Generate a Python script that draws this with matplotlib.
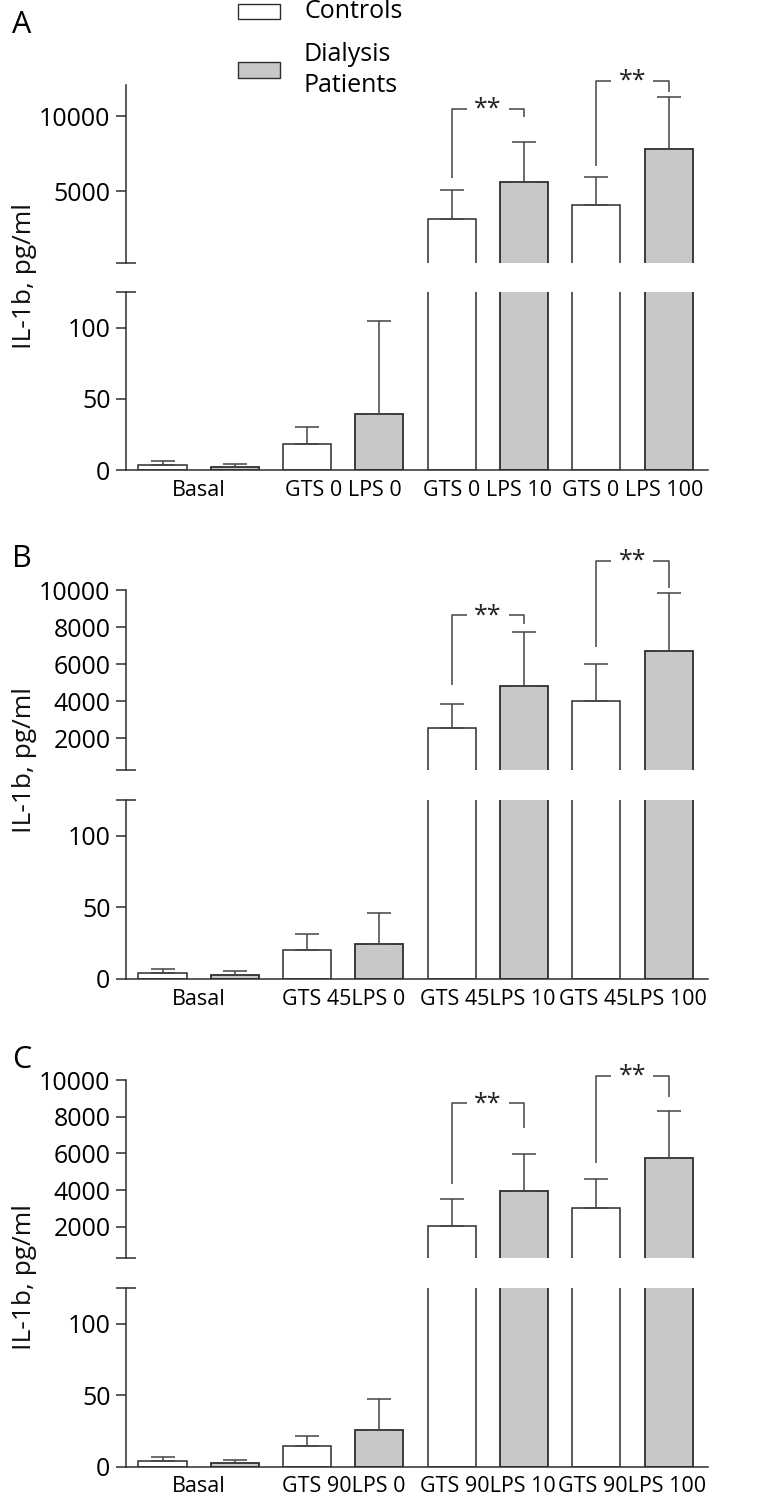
import matplotlib
matplotlib.use("Agg")
import matplotlib.pyplot as plt
import numpy as np
from matplotlib.patches import Rectangle

plt.rcParams['font.family'] = ['Open Sans', 'DejaVu Sans']

# ---------------- data ----------------
cats_A = ['Basal', 'GTS 0 LPS 0', 'GTS 0 LPS 10', 'GTS 0 LPS 100']
cats_B = ['Basal', 'GTS 45LPS 0', 'GTS 45LPS 10', 'GTS 45LPS 100']
cats_C = ['Basal', 'GTS 90LPS 0', 'GTS 90LPS 10', 'GTS 90LPS 100']

ctrl_A = [4.0, 18.2, 3130, 4070]
ctrl_A_top = [6.7, 30.4, 5070, 5910]      # upper end of error bar
pat_A = [2.5, 39.5, 5580, 7780]
pat_A_top = [4.6, 105, 8250, 11290]

ctrl_B = [4.4, 20.0, 2540, 4010]
ctrl_B_top = [7.0, 31.6, 3850, 5990]
pat_B = [2.8, 24.6, 4840, 6690]
pat_B_top = [5.3, 46.3, 7720, 9860]

ctrl_C = [4.0, 14.7, 2040, 3010]
ctrl_C_top = [6.8, 21.5, 3500, 4590]
pat_C = [2.8, 25.4, 3970, 5750]
pat_C_top = [4.9, 47.1, 5950, 8330]

# significance brackets: (group index, left foot, top, right foot) in pg/ml
sig_A = [(2, 5850, 10490, 9910), (3, 6670, 12330, 11580)]
sig_B = [(2, 4880, 8640, 8150), (3, 6910, 11580, 10120)]
sig_C = [(2, 4330, 8730, 7370), (3, 5460, 10220, 9060)]

upper_ticks_A = [5000, 10000]
upper_ticks_BC = [2000, 4000, 6000, 8000, 10000]
lower_ticks = [0, 50, 100]

legend_labels = ['Controls', 'Dialysis\nPatients']
panel_labels = ['A', 'B', 'C']
ylabel = 'IL-1b, pg/ml'

# ---------------- style ----------------
W, H = 760, 1504
DPI = 100
fig = plt.figure(figsize=(W / DPI, H / DPI), dpi=DPI)

EDGE = '#2e2e2e'
GRAY = '#c8c8c8'
LINE = '#444444'
TICKFS = 18
XFS = 15.5
left_px, right_px = 126, 708
step_px = 72.3
x0_px = 162.5
xlim = ((left_px - x0_px) / step_px, (right_px - x0_px) / step_px)
BARW = 0.665
LOWER_MAX = 125

def fx(px):
    return px / W

def fy(py):
    return 1 - py / H

panels = [
    dict(cats=cats_A, c=ctrl_A, ct=ctrl_A_top, p=pat_A, pt=pat_A_top, sig=sig_A,
         up=(85, 263.3), lo=(292, 470.3), uylim=(180, 12070), uticks=upper_ticks_A,
         letter_y=33, ylab_y=276),
    dict(cats=cats_B, c=ctrl_B, ct=ctrl_B_top, p=pat_B, pt=pat_B_top, sig=sig_B,
         up=(590, 770), lo=(800, 979), uylim=(290, 10000), uticks=upper_ticks_BC,
         letter_y=567, ylab_y=760),
    dict(cats=cats_C, c=ctrl_C, ct=ctrl_C_top, p=pat_C, pt=pat_C_top, sig=sig_C,
         up=(1080, 1258.3), lo=(1288, 1466.7), uylim=(282, 10000), uticks=upper_ticks_BC,
         letter_y=1068, ylab_y=1277),
]

cap_half = 10 / (right_px - left_px)

def style_axis(ax):
    for s in ['top', 'right']:
        ax.spines[s].set_visible(False)
    for s in ['left', 'bottom']:
        ax.spines[s].set_color(EDGE)
        ax.spines[s].set_linewidth(1.1)
    ax.tick_params(axis='y', direction='out', length=7.2, width=1.1, color=EDGE,
                   labelsize=TICKFS, pad=4)
    ax.set_xlim(*xlim)

def draw_err(ax, pos, val, top, mask):
    pos = pos[mask]; val = val[mask]; top = top[mask]
    if len(pos) == 0:
        return
    ax.errorbar(pos, val, yerr=[np.zeros_like(val), top - val], fmt='none',
                ecolor=LINE, elinewidth=1.1, capsize=8.6, capthick=1.1, zorder=3)

for i, pn in enumerate(panels):
    axu = fig.add_axes([fx(left_px), fy(pn['up'][1]), fx(right_px - left_px),
                        (pn['up'][1] - pn['up'][0]) / H])
    axl = fig.add_axes([fx(left_px), fy(pn['lo'][1]), fx(right_px - left_px),
                        (pn['lo'][1] - pn['lo'][0]) / H])
    ctrl_pos = np.arange(len(pn['cats'])) * 2
    pat_pos = ctrl_pos + 1
    c = np.array(pn['c']); ct = np.array(pn['ct'])
    p = np.array(pn['p']); pt = np.array(pn['pt'])
    for ax in (axu, axl):
        style_axis(ax)
        ax.bar(ctrl_pos, c, width=BARW, color='white', edgecolor=EDGE, linewidth=1.1, zorder=2)
        ax.bar(pat_pos, p, width=BARW, color=GRAY, edgecolor=EDGE, linewidth=1.3, zorder=2)
    draw_err(axu, ctrl_pos, c, ct, c > LOWER_MAX)
    draw_err(axu, pat_pos, p, pt, p > LOWER_MAX)
    draw_err(axl, ctrl_pos, c, ct, c <= LOWER_MAX)
    draw_err(axl, pat_pos, p, pt, p <= LOWER_MAX)

    # upper segment
    axu.set_ylim(*pn['uylim'])
    axu.set_yticks(pn['uticks'])
    axu.set_yticklabels([str(t) for t in pn['uticks']])
    axu.spines['bottom'].set_visible(False)
    axu.set_xticks([])
    axu.plot([-cap_half, cap_half], [0, 0], transform=axu.transAxes, color=EDGE,
             lw=1.1, clip_on=False, solid_capstyle='butt')

    # lower segment
    axl.set_ylim(0, LOWER_MAX)
    axl.set_yticks(lower_ticks)
    axl.set_yticklabels([str(t) for t in lower_ticks])
    axl.set_xticks(ctrl_pos + 0.5)
    axl.set_xticklabels(pn['cats'])
    axl.tick_params(axis='x', length=0, labelsize=XFS, pad=7)
    axl.plot([-cap_half, cap_half], [1, 1], transform=axl.transAxes, color=EDGE,
             lw=1.1, clip_on=False, solid_capstyle='butt')

    # significance brackets
    seg = 0.21
    for g, lf, top, rf in pn['sig']:
        xl = ctrl_pos[g]
        xr = pat_pos[g]
        kw = dict(color=LINE, lw=1.1, clip_on=False, solid_capstyle='butt')
        axu.plot([xl, xl, xl + seg], [lf, top, top], **kw)
        axu.plot([xr - seg, xr, xr], [top, top, rf], **kw)
        axu.annotate('**', xy=((xl + xr) / 2, top), xytext=(0, -5),
                     textcoords='offset points', ha='center', va='baseline',
                     fontsize=18, color='#222222', annotation_clip=False)

    fig.text(fx(12), fy(pn['letter_y']), panel_labels[i],
             fontsize=22, va='baseline', ha='left', color='black')
    fig.text(fx(25), fy(pn['ylab_y']), ylabel, rotation=90, fontsize=19,
             va='center', ha='center', color='#111111')

# legend
fig.add_artist(Rectangle((fx(238), fy(19)), fx(42), 15 / H, transform=fig.transFigure,
                         facecolor='white', edgecolor=EDGE, linewidth=1.0))
fig.add_artist(Rectangle((fx(238), fy(78)), fx(42), 16 / H, transform=fig.transFigure,
                         facecolor=GRAY, edgecolor=EDGE, linewidth=1.0))
fig.text(fx(304), fy(12), legend_labels[0], fontsize=18, va='center', ha='left')
fig.text(fx(304), fy(70), legend_labels[1], fontsize=18, va='center', ha='left',
         linespacing=1.3)

fig.savefig('out.png', dpi=DPI)
